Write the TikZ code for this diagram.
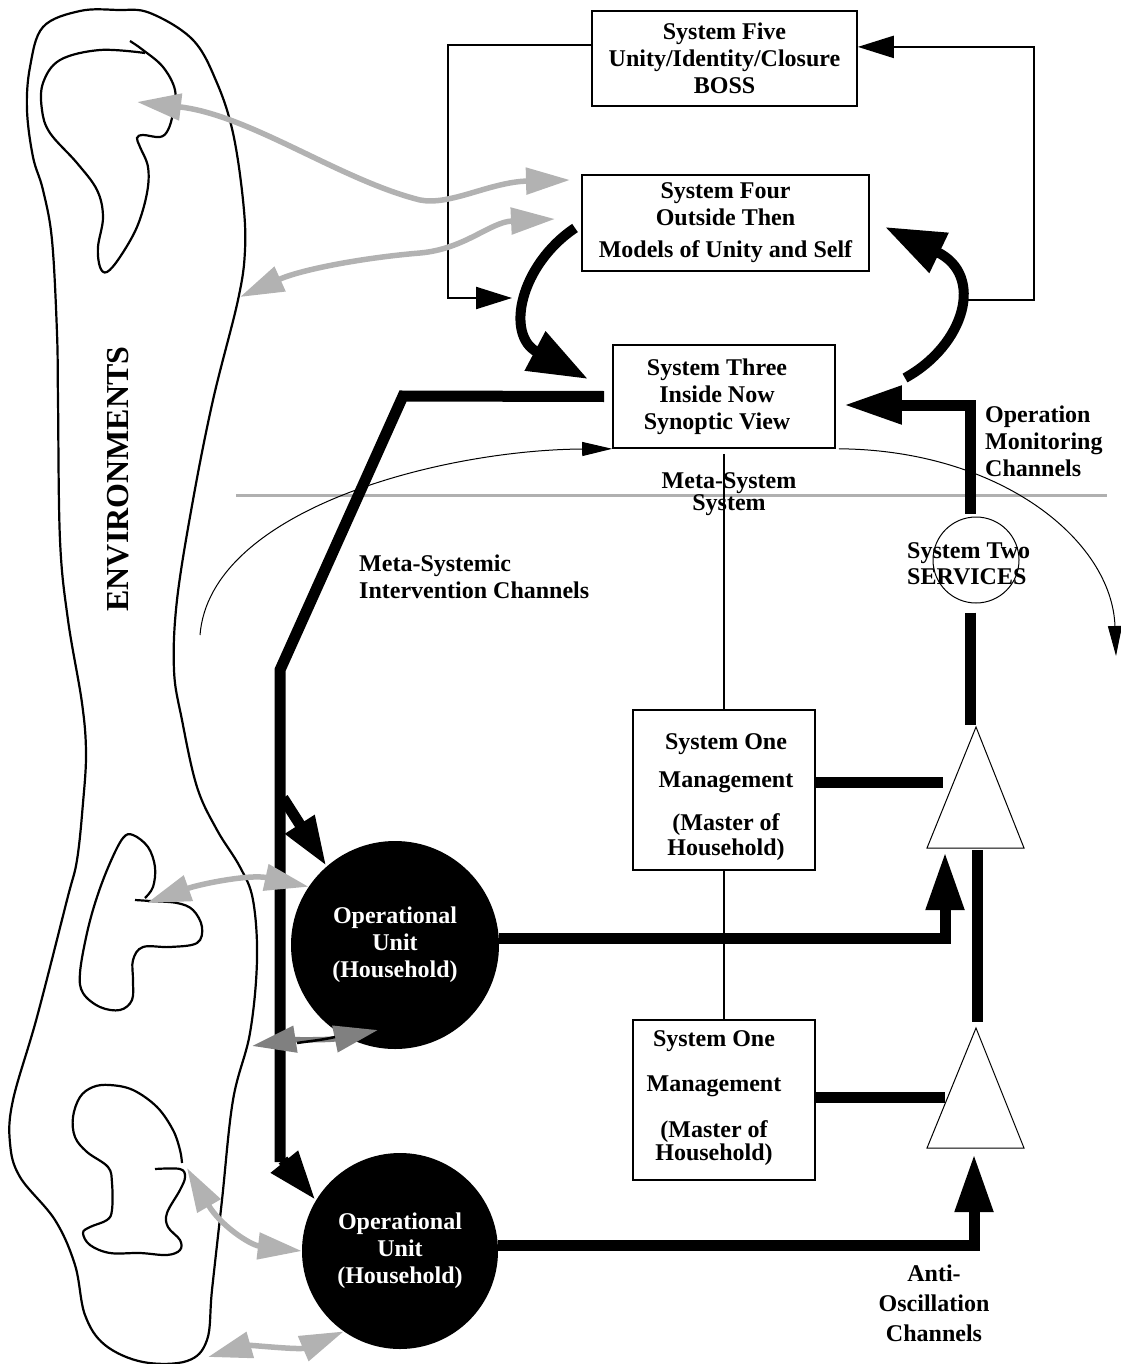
\documentclass[tikz,border=0pt]{standalone}
\usepackage{fontspec}
\setmainfont{Liberation Serif}
\usepackage{tikz}
\usetikzlibrary{arrows.meta,calc}
\tikzset{every node/.append style={align=center}}
\definecolor{envgray}{RGB}{178,178,178}
\definecolor{darkenv}{RGB}{128,128,128}
\definecolor{rulegray}{RGB}{176,176,176}
\newcommand{\vsmfont}{\fontsize{24}{27}\selectfont\bfseries}

\begin{document}
\begin{tikzpicture}[x=1pt, y=-1pt, font=\vsmfont,
  every node/.append style={inner sep=0pt},
  sysbox/.style={draw, line width=1.6pt},
  unit/.style={circle, fill=black, text=white},
  chan/.style={line width=11pt},
  bigtip/.style={-{Triangle[length=58pt,width=36pt]}},
  midtip/.style={-{Triangle[length=50pt,width=32pt]}},
  feed/.style={line width=2.2pt, -{Triangle[length=36pt,width=22pt]}},
  thinarc/.style={line width=1pt, -{Triangle[length=30pt,width=14pt]}},
  envarrow/.style={line width=5.5pt, envgray,
    {Triangle[length=44pt,width=26pt]}-{Triangle[length=44pt,width=26pt]}},
  blob/.style={line width=2.2pt}]

  \useasboundingbox (0,0) rectangle (1120,1364);

  % === Environment ===
  \draw[blob] plot[smooth cycle, tension=0.6] coordinates {
    (118,10) (150,13) (193,40) (217,83) (233,133) (243,200) (245,250)
    (238,300) (213,400) (193,500) (177,600) (174,670) (182,720) (197,787)
    (217,830) (240,867) (253,900) (257,960) (250,1033) (233,1100)
    (222,1200) (212,1290) (207,1340) (187,1361) (143,1362) (105,1345)
    (85,1315) (75,1265) (55,1220) (20,1177) (10,1143) (13,1100) (37,1017)
    (67,900) (77,860) (83,803) (86,753) (82,703) (68,620) (60,540)
    (58,400) (57,333) (52,240) (43,190) (33,157) (27,110) (30,67)
    (43,27) (80,11)};
  \draw[blob] plot[smooth, tension=0.6] coordinates {
    (145,53) (100,50) (60,60) (43,83) (42,110) (50,133) (77,163) (97,190)
    (103,217) (98,247) (100,267) (107,272) (120,257) (137,227) (147,193)
    (148,167) (140,147) (137,138) (143,135) (160,137) (168,130) (173,113)
    (175,90) (163,67) (143,50) (130,41)};
  \draw[blob] plot[smooth, tension=0.6] coordinates {
    (135,900) (150,901) (177,903) (193,910) (202,927) (197,943) (170,947)
    (143,947) (133,960) (133,980) (132,1000) (120,1010) (100,1007)
    (83,993) (80,973) (87,933) (97,897) (110,863) (123,838) (133,835)
    (148,847) (155,867) (153,887) (145,898)};
  \draw[blob] plot[smooth, tension=0.6] coordinates {
    (155,1169) (180,1169) (185,1177) (180,1190) (167,1213) (168,1227)
    (180,1240) (180,1250) (167,1255) (140,1253) (110,1253) (90,1245)
    (83,1233) (90,1227) (107,1220) (112,1210) (112,1183) (108,1167)
    (87,1152) (75,1137) (73,1117) (80,1097) (93,1087) (110,1085)
    (133,1090) (157,1107) (173,1130) (180,1150) (182,1163)};
  \node[rotate=90, font=\fontsize{32}{36}\selectfont\bfseries]
    (envlabel) at (118,479) {ENVIRONMENTS};

  % === Systems ===
  \node[sysbox, minimum width=265pt, minimum height=95pt]
    (s5) at (724.5,58.5) {System Five\\Unity/Identity/Closure\\BOSS};
  \node[sysbox, minimum width=287pt, minimum height=96pt]
    (s4) at (725.5,223) {System Four\\Outside Then\\[5pt]Models of Unity and Self};
  \node[sysbox, minimum width=222pt, minimum height=103pt]
    (s3) at (724,396.5) {};
  \node (s3text) at (717,397) {System Three\\Inside Now\\Synoptic View};
  \node[sysbox, minimum width=182pt, minimum height=160pt]
    (s1a) at (724,790) {};
  \node (s1atext) at (726,797)
    {System One\\[11pt]Management\\[16pt](Master of\\[-2pt]Household)};
  \node[sysbox, minimum width=182pt, minimum height=160pt]
    (s1b) at (724,1100) {};
  \node (s1btext) at (714,1098)
    {System One\\[18pt]Management\\[19pt](Master of\\[-4pt]Household)};
  \node[draw, circle, line width=1pt, minimum size=86pt] (s2) at (976,560) {};
  \node[anchor=west, align=left] (s2text) at (907,564)
    {System Two\\[-1pt]SERVICES};
  \node[unit, minimum size=208pt] (ou1) at (395,945)
    {Operational\\Unit\\(Household)};
  \node[unit, minimum size=196pt] (ou2) at (400,1251)
    {Operational\\Unit\\(Household)};

  % Services triangles
  \coordinate (tri1a) at (976,727);
  \coordinate (tri1l) at (927,848);
  \coordinate (tri1r) at (1024,848);
  \draw[line width=1pt] (tri1a) -- (tri1l) -- (tri1r) -- cycle;
  \coordinate (tri2a) at (976,1028);
  \coordinate (tri2l) at (927,1148);
  \coordinate (tri2r) at (1024,1148);
  \draw[line width=1pt] (tri2a) -- (tri2l) -- (tri2r) -- cycle;

  % Meta-system divide
  \draw[rulegray, line width=3pt] (236,495) -- (1107,495);
  \draw[line width=1.5pt] ([yshift=-5pt]s3.south -| s1a.north) -- (s1a.north);
  \draw[line width=1.5pt] (s1a.south) -- (s1b.north);
  \node[font=\fontsize{24}{22}\selectfont\bfseries] (msys) at (729,494)
    {Meta-System\\System};

  % Thin arcs
  \coordinate (arcl) at (200,635);
  \draw[thinarc] (arcl) .. controls (210,510) and (440,450) .. (s3.south west);
  \coordinate (arcr) at (1116,656);
  \draw[thinarc] ([xshift=3pt]s3.south east)
    .. controls (1000,450) and (1112,540) .. (arcr);

  % === Feedback loop S5 ===
  \coordinate (s5l) at ($(s5.north west)!0.36!(s5.south west)$);
  \coordinate (s5r) at ($(s5.north east)!0.38!(s5.south east)$);
  \coordinate (fbin) at (512,298);
  \coordinate (fbout) at (965,300);
  \draw[feed] (s5l) -| (448,298) -- (fbin);
  \draw[feed] (fbout) -- (1034,300) |- (s5r);

  % S4 <-> S3 loop
  \coordinate (c43s) at (575,228);
  \coordinate (c43e) at (588,379);
  \draw[line width=10pt, -{Triangle[length=60pt,width=42pt]}]
    (c43s) .. controls (520,265) and (505,335) .. (c43e);
  \coordinate (c34s) at (905,378);
  \coordinate (c34e) at (885,227);
  \draw[line width=10pt, -{Triangle[length=60pt,width=42pt]}]
    (c34s) .. controls (965,345) and (985,275) .. (c34e);

  % === Intervention channel ===
  \draw[chan] ([xshift=-8pt]s3.west) -- (403,396) -- (280,670) -- (280,1162);
  \draw[chan, midtip] (283,798) -- (ou1.131);
  \draw[chan, midtip] (283,1160) -- (ou2.149);

  % === Monitoring channel ===
  \draw[chan, bigtip] ($(s2.north)+(-6,-3)$) |- ([xshift=8pt,yshift=-8.5pt]s3.east);
  \draw[chan] ($(s2.south)+(-6,9)$) -- ($(tri1a)+(-6,-2)$);
  \draw[chan] ([yshift=8pt]s1a.east) -- (943,782);
  \draw[chan, bigtip] ([yshift=7pt]ou1.east) -| (945,852);
  \draw[chan] (977,850) -- (977,1022);
  \draw[chan] ([yshift=3pt]s1b.east) -- (945,1097);
  \draw[chan, bigtip] ([yshift=6pt]ou2.east) -| (974,1154);

  % === Environment exchanges ===
  \coordinate (e1) at (137,102);
  \coordinate (e1s) at (570,180);
  \draw[envarrow] (e1) .. controls (250,115) and (340,180) .. (420,200)
    .. controls (450,206) and (490,182) .. (e1s);
  \coordinate (e2) at (240,297);
  \coordinate (e2s) at (555,219);
  \draw[envarrow] (e2) .. controls (300,270) and (360,258) .. (420,253)
    .. controls (465,249) and (490,222) .. (e2s);
  \coordinate (e3) at (147,903);
  \draw[envarrow] (e3) .. controls (200,884) and (250,874) .. (ou1.146);
  \coordinate (e4) at (252,1046);
  \coordinate (e4s) at (378,1030);
  \draw[envarrow, darkenv] (e4) .. controls (290,1040) and (330,1040) .. (e4s);
  \draw[line width=2.5pt] (297,1043) .. controls (310,1041) and (322,1040) .. (335,1037);
  \coordinate (e5) at (187,1168);
  \draw[envarrow] (e5) .. controls (220,1225) and (250,1245) .. (ou2.west);
  \coordinate (e6) at (208,1357);
  \draw[envarrow] (e6) .. controls (250,1345) and (300,1350) .. (ou2.235);

  % Labels
  \node[anchor=west, align=left] (msic) at (359,577)
    {Meta-Systemic\\Intervention Channels};
  \node[anchor=west, align=left] (omc) at (985,441)
    {Operation\\Monitoring\\Channels};
  \node (aoc) at (934,1303) {Anti-\\[3pt]Oscillation\\[3pt]Channels};

\end{tikzpicture}
\end{document}
